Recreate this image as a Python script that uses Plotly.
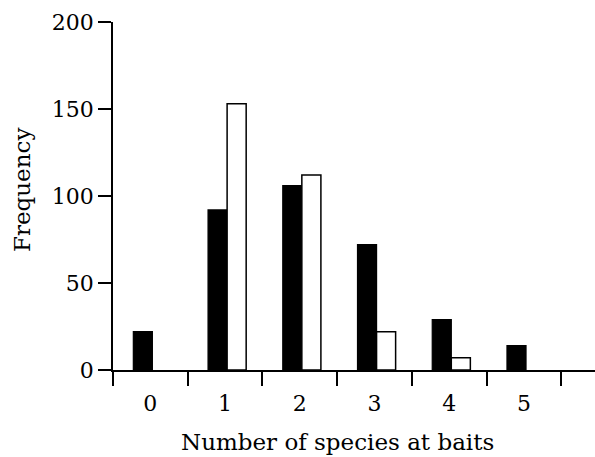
import plotly.graph_objects as go

categories = ["0", "1", "2", "3", "4", "5"]
black_values = [22, 92, 106, 72, 29, 14]
white_values = [0, 153, 112, 22, 7, 0]
y_ticks = [0, 50, 100, 150, 200]
x_title = "Number of species at baits"
y_title = "Frequency"

FONT = "DejaVu Serif, Liberation Serif, serif"

fig = go.Figure()
fig.add_trace(go.Bar(
    x=categories, y=black_values, width=0.255, offset=-0.228,
    marker=dict(color="black", line=dict(color="black", width=1.2)),
    showlegend=False,
))
fig.add_trace(go.Bar(
    x=categories, y=white_values, width=0.255, offset=0.027,
    marker=dict(color="white",
                line=dict(color="black", width=[1.5 if v > 0 else 0 for v in white_values])),
    showlegend=False,
))

fig.update_layout(
    width=595, height=457,
    margin=dict(l=113, r=0, t=22, b=87),
    paper_bgcolor="white", plot_bgcolor="white",
    font=dict(family=FONT, size=22, color="#000000"),
    barmode="overlay",
    xaxis=dict(
        type="category", range=[-0.5, 5.95], tickson="boundaries",
        ticks="outside", ticklen=14, tickwidth=1.5, tickcolor="black",
        showline=True, linecolor="black", linewidth=1.5,
        showgrid=False, zeroline=False,
        tickfont=dict(family=FONT, size=22, color="#000000"),
        ticklabelstandoff=13,
    ),
    yaxis=dict(
        range=[0, 200], tickvals=y_ticks,
        ticks="outside", ticklen=13, tickwidth=1.5, tickcolor="black",
        showline=True, linecolor="black", linewidth=1.5,
        showgrid=False, zeroline=False,
        tickfont=dict(family=FONT, size=22, color="#000000"),
    ),
    annotations=[
        dict(text=x_title, x=2.5, xref="x", y=-0.207, yref="paper",
             xanchor="center", yanchor="middle", showarrow=False,
             font=dict(family=FONT, size=23, color="#000000")),
        dict(text=y_title, x=-0.189, xref="paper", y=0.517, yref="paper",
             xanchor="center", yanchor="middle", showarrow=False, textangle=-90,
             font=dict(family=FONT, size=23, color="#000000")),
    ],
)

fig.write_html("out.html")
